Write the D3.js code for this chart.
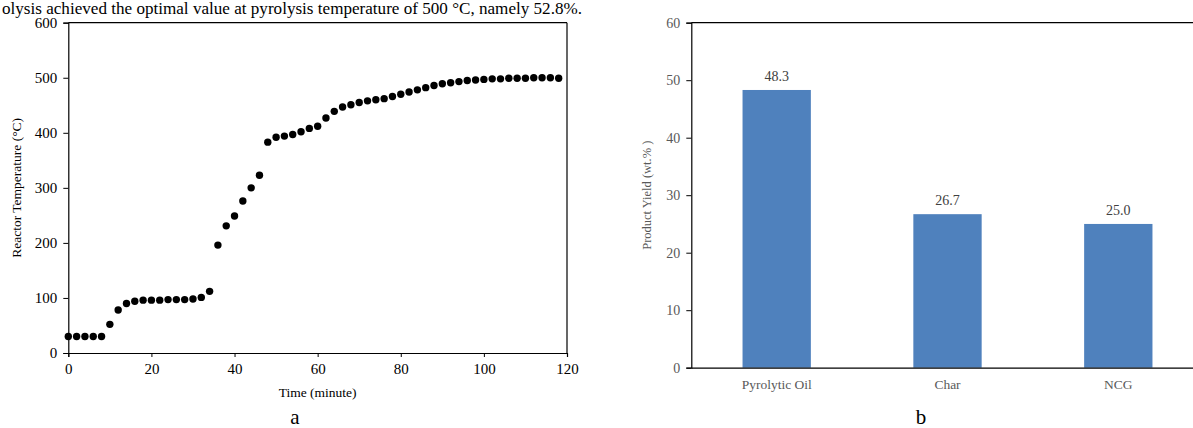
<!DOCTYPE html>
<html><head><meta charset="utf-8">
<script src="https://cdn.jsdelivr.net/npm/d3@7"></script>
<style>body{margin:0;background:#fff}svg{display:block}</style>
</head><body>
<svg id="c" width="1193" height="428"></svg>
<script>
// ---- Data (a): reactor temperature vs time ----
const timeMin = [0,2,4,6,8,10,12,14,16,18,20,22,24,26,28,30,32,34,36,38,40,42,44,46,48,50,52,54,56,58,60,62,64,66,68,70,72,74,76,78,80,82,84,86,88,90,92,94,96,98,100,102,104,106,108,110,112,114,116,118];
const tempC = [30,30,30,30,30,52,78,90,94,96,96,96,97,97,97,98,101,112,196,231,249,276,300,323,383,392,394,397,402,408,412,427,439,447,451,455,458,460,462,466,470,474,478,482,486,489,491,493,495,496,497,498,498,499,499,499,500,500,500,499];
const xTicksA = [0,20,40,60,80,100,120];
const yTicksA = [0,100,200,300,400,500,600];

// ---- Data (b): product yield ----
const products = ["Pyrolytic Oil","Char","NCG"];
const yields = [48.3,26.7,25.0];
const yTicksB = [0,10,20,30,40,50,60];

const svg = d3.select("#c");
const serif = "'Liberation Serif','Times New Roman',serif";

// caption line at the top
svg.append("text").attr("x",2).attr("y",14).attr("font-family",serif).attr("font-size",16)
  .attr("textLength",580).attr("lengthAdjust","spacingAndGlyphs")
  .attr("fill","#000").text("olysis achieved the optimal value at pyrolysis temperature of 500 °C, namely 52.8%.");

// ===== Chart a =====
const xA = d3.scaleLinear().domain([0,120]).range([68.3,567]);
const yA = d3.scaleLinear().domain([0,600]).range([353,22.7]);
const gA = svg.append("g");
gA.append("line").attr("x1",xA(0)).attr("x2",xA(120)).attr("y1",yA(600)).attr("y2",yA(600)).attr("stroke","#000").attr("stroke-width",1.2);
gA.append("line").attr("x1",xA(120)).attr("x2",xA(120)).attr("y1",yA(600)).attr("y2",yA(0)).attr("stroke","#000").attr("stroke-width",1.2);
const axXA = gA.append("g").attr("transform",`translate(0,${yA(0)})`)
  .call(d3.axisBottom(xA).tickValues(xTicksA).tickSize(4).tickPadding(6).tickFormat(d3.format("d")));
const axYA = gA.append("g").attr("transform",`translate(${xA(0)},0)`)
  .call(d3.axisLeft(yA).tickValues(yTicksA).tickSize(5).tickPadding(6).tickFormat(d3.format("d")));
[axXA,axYA].forEach(a=>{
  a.select(".domain").attr("stroke","#000").attr("stroke-width",1.2);
  a.selectAll(".tick line").attr("stroke","#000");
  a.selectAll("text").attr("font-family",serif).attr("font-size",15).attr("fill","#000");
});
gA.selectAll("circle").data(timeMin).join("circle")
  .attr("cx",(d)=>xA(d)).attr("cy",(d,i)=>yA(tempC[i])).attr("r",3.7).attr("fill","#000");
gA.append("text").attr("x",(xA(0)+xA(120))/2).attr("y",397).attr("text-anchor","middle")
  .attr("font-family",serif).attr("font-size",13.5).text("Time (minute)");
gA.append("text").attr("transform",`translate(21,${(yA(0)+yA(600))/2}) rotate(-90)`).attr("text-anchor","middle")
  .attr("font-family",serif).attr("font-size",13.5).text("Reactor Temperature (°C)");
gA.append("text").attr("x",295).attr("y",424).attr("text-anchor","middle")
  .attr("font-family",serif).attr("font-size",21).text("a");

// ===== Chart b =====
const xB = d3.scaleBand().domain(products).range([691.3,1203.7]).paddingInner(0.6).paddingOuter(0.3);
const yB = d3.scaleLinear().domain([0,60]).range([367.7,22.7]);
const gB = svg.append("g");
gB.append("line").attr("x1",691.3).attr("x2",1203.7).attr("y1",yB(60)).attr("y2",yB(60)).attr("stroke","#000").attr("stroke-width",1.2);
gB.selectAll("rect").data(products).join("rect")
  .attr("x",d=>xB(d)).attr("width",xB.bandwidth())
  .attr("y",(d,i)=>yB(yields[i])).attr("height",(d,i)=>yB(0)-yB(yields[i]))
  .attr("fill","#4F81BD");
gB.selectAll("text.val").data(products).join("text").attr("class","val")
  .attr("x",d=>xB(d)+xB.bandwidth()/2).attr("y",(d,i)=>yB(yields[i])-9)
  .attr("text-anchor","middle").attr("font-family",serif).attr("font-size",14).attr("fill","#404040")
  .text((d,i)=>yields[i].toFixed(1));
const axXB = gB.append("g").attr("transform",`translate(0,${yB(0)})`)
  .call(d3.axisBottom(xB).tickSize(0).tickPadding(12));
const axYB = gB.append("g").attr("transform",`translate(691.3,0)`)
  .call(d3.axisLeft(yB).tickValues(yTicksB).tickSize(5).tickPadding(6).tickFormat(d3.format("d")));
[axXB,axYB].forEach(a=>{
  a.select(".domain").attr("stroke","#000").attr("stroke-width",1.2);
  a.selectAll(".tick line").attr("stroke","#000");
  a.selectAll("text").attr("font-family",serif).attr("font-size",13.5).attr("fill","#595959");
});
axYB.selectAll("text").attr("font-size",14);
gB.append("text").attr("transform",`translate(651,${(yB(0)+yB(60))/2}) rotate(-90)`).attr("text-anchor","middle")
  .attr("font-family",serif).attr("font-size",12.5).attr("fill","#595959").text("Product Yield (wt.% )");
gB.append("text").attr("x",921).attr("y",424).attr("text-anchor","middle")
  .attr("font-family",serif).attr("font-size",21).text("b");
</script>
</body></html>
